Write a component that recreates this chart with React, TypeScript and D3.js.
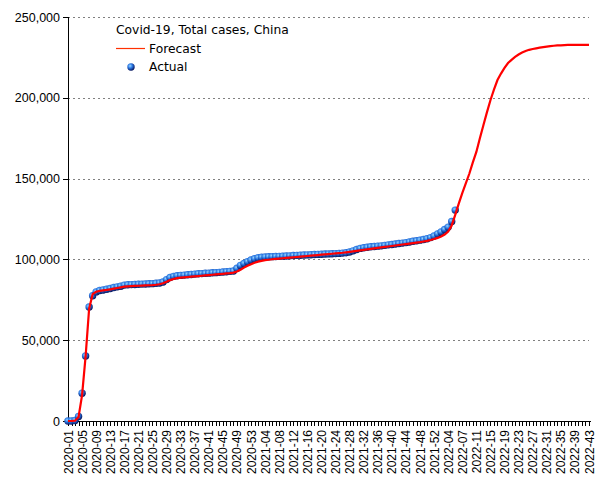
import React from "react";
import * as d3 from "d3";

// ---- data ----
const title = "Covid-19, Total cases, China";
const seriesNames = ["Forecast", "Actual"];

// weekly categories 2020-01 ... 2022-43 (source repeats week 2022-05)
const years = [2020, 2021, 2022];
const weeksPerYear = [53, 52, 43];
const categories: string[] = [];
years.forEach((y, k) => {
  for (let w = 1; w <= weeksPerYear[k]; w++) {
    const lab = `${y}-${String(w).padStart(2, "0")}`;
    categories.push(lab);
    if (lab === "2022-05") categories.push(lab);
  }
});

const actual = [
  0, 0, 300, 2800, 17200, 40200, 70500, 77500,
  79900, 80800, 81100, 81500, 82000, 82600, 83000, 83400,
  84100, 84300, 84400, 84500, 84600, 84700, 84800, 84900, 85000, 85200, 85400,
  86000, 87500, 88800, 89500, 89900,
  90100, 90300, 90500, 90700, 90900, 91100, 91200, 91400, 91500, 91700, 91800, 92000, 92200, 92400, 92600, 92800,
  94500, 96300, 97500, 98600, 99600, 100400, 101000, 101300,
  101500, 101600, 101700, 101800, 101900, 102000, 102100, 102200,
  102400, 102500, 102600, 102700, 102800, 102900, 103000, 103100, 103200, 103300, 103400, 103500, 103600, 103700, 103900, 104100,
  104600, 105300, 106100, 106800, 107200, 107500, 107800, 108000, 108200, 108400, 108700, 109000, 109200, 109500, 109800, 110100,
  110400, 110800, 111200, 111500, 111900, 112300, 112800, 113500, 114500, 115800, 117000, 118500, 120000, 123500, 130500,
];

const forecast = [
  0, 0, 200, 2500, 16000, 40000, 69500, 78500,
  80000, 80500, 80800, 81100, 81500, 81900, 82300, 82700,
  83100, 83300, 83500, 83600, 83700, 83800, 83900, 84000, 84100, 84300, 84600,
  85200, 86200, 87200, 87900, 88400,
  88700, 88900, 89100, 89300, 89500, 89700, 89900, 90100, 90300, 90500, 90700, 90900, 91100, 91300, 91500, 91800,
  92500, 93600, 94900, 96000, 97000, 97900, 98600, 99100,
  99500, 99800, 100100, 100300, 100500, 100700, 100900, 101100,
  101300, 101500, 101700, 101900, 102100, 102300, 102500, 102700, 102900, 103100, 103300, 103500, 103700, 103900, 104100, 104400,
  104700, 105000, 105300, 105600, 105900, 106200, 106500, 106800, 107100, 107400, 107700, 108000, 108300, 108600, 108900, 109200,
  109500, 109800, 110100, 110400, 110700, 111100, 111500, 112000, 112600, 113300, 114200, 115400, 117200, 121000, 127500,
  134500, 141000, 147000, 153000, 160000, 166500, 175000, 183000, 191000, 198500,
  205000, 211000, 215000, 218500, 221500, 223500, 225300, 226800, 228000, 229000,
  229700, 230200, 230600, 231000, 231400, 231700, 232000, 232200, 232400, 232500,
  232600, 232700, 232700, 232700, 232700, 232700, 232700, 232700,
];

const yTicks = [0, 50000, 100000, 150000, 200000, 250000];

export default function App() {
  const left = 68, right = 589, top = 17, bottom = 421;
  const x = d3.scaleLinear().domain([0, categories.length - 1]).range([left, right]);
  const y = d3.scaleLinear().domain([0, 250000]).range([bottom, top]);
  const fmt = d3.format(",");
  const line = d3
    .line<number>()
    .x((_, i) => x(i))
    .y((d) => y(d));

  return (
    <svg
      width={605}
      height={480}
      style={{ position: "absolute", left: 0, top: 0, background: "#fff" }}
    >
      <defs>
        <radialGradient id="ball" cx="38%" cy="35%" r="65%">
          <stop offset="0%" stopColor="#9ad8ff" />
          <stop offset="45%" stopColor="#2c7ae6" />
          <stop offset="100%" stopColor="#061660" />
        </radialGradient>
      </defs>
      {/* grid */}
      {yTicks.filter((t) => t > 0).map((t) => (
        <line
          key={"g" + t}
          x1={left}
          x2={right}
          y1={Math.round(y(t)) + 0.5}
          y2={Math.round(y(t)) + 0.5}
          stroke="#808080"
          strokeDasharray="2,3"
        />
      ))}
      {/* y axis */}
      <line x1={left + 0.5} x2={left + 0.5} y1={top} y2={bottom} stroke="#000" />
      {yTicks.map((t) => (
        <g key={"y" + t}>
          <line x1={left - 5} x2={left} y1={Math.round(y(t)) + 0.5} y2={Math.round(y(t)) + 0.5} stroke="#000" />
          <text
            x={left - 8}
            y={y(t) + 4.5}
            textAnchor="end"
            fontFamily="Liberation Sans"
            fontSize={12.5}
            fill="#000"
          >
            {fmt(t)}
          </text>
        </g>
      ))}
      {/* x axis */}
      <line x1={left} x2={right + 2} y1={bottom + 0.5} y2={bottom + 0.5} stroke="#000" />
      {categories.map((c, i) => (
        <line
          key={"xt" + i}
          x1={Math.round(x(i)) + 0.5}
          x2={Math.round(x(i)) + 0.5}
          y1={bottom}
          y2={bottom + 5}
          stroke="#000"
        />
      ))}
      {categories.map((c, i) =>
        i % 4 === 0 ? (
          <text
            key={"xl" + i}
            transform={`translate(${x(i) + 4.5},${bottom + 9}) rotate(-90)`}
            textAnchor="end"
            fontFamily="Liberation Sans"
            fontSize={12}
            fill="#000"
          >
            {c}
          </text>
        ) : null
      )}
      {/* actual dots */}
      {actual.map((v, i) => (
        <circle key={"d" + i} cx={x(i)} cy={y(v)} r={3.7} fill="url(#ball)" />
      ))}
      {/* forecast line */}
      <path d={line(forecast) || ""} fill="none" stroke="#ff0000" strokeWidth={2.2} />
      {/* legend */}
      <text x={116} y={34} fontFamily="DejaVu Sans" fontSize={12.3} fill="#000">
        {title}
      </text>
      <line x1={116} x2={145} y1={48.5} y2={48.5} stroke="#ff3000" strokeWidth={1.2} />
      <text x={149} y={53} fontFamily="DejaVu Sans" fontSize={12.3} fill="#000">
        {seriesNames[0]}
      </text>
      <circle cx={131} cy={67} r={3.7} fill="url(#ball)" />
      <text x={149} y={71} fontFamily="DejaVu Sans" fontSize={12.3} fill="#000">
        {seriesNames[1]}
      </text>
    </svg>
  );
}
